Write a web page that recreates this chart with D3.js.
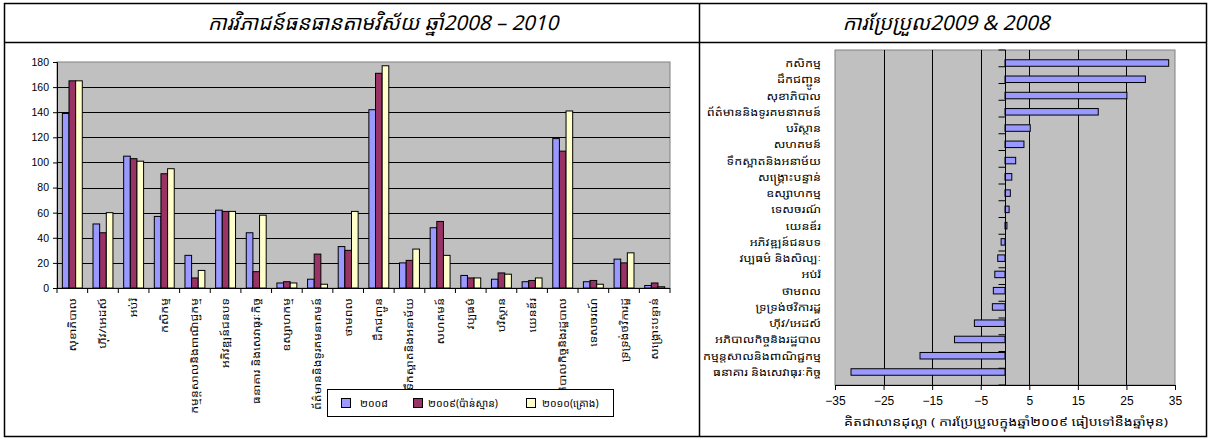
<!DOCTYPE html>
<html><head><meta charset="utf-8">
<script src="https://cdn.jsdelivr.net/npm/d3@7/dist/d3.min.js"></script>
<style>
body{margin:0;background:#fff;}
svg{display:block;}
text{font-family:"Khmer OS System","Khmer OS","Noto Sans Khmer","Noto Serif Khmer","Liberation Sans",Arial,sans-serif;}
.num{font-family:"Liberation Sans",Arial,sans-serif;}
</style></head>
<body>
<svg id="c" width="1212" height="439"></svg>
<script>
// ---------- data ----------
const categories = ["សុខាភិបាល","ហ៊ីវ/អេដស៍","អប់រំ","កសិកម្ម","កម្មន្តសាលនិងពាណិជ្ជកម្ម","អភិវឌ្ឍន៍ជនបទ","ធនាគារ និងសេវាធុរៈកិច្ច","ឧស្សាហកម្ម","ព័ត៌មាននិងទូរគមនាគមន៍","ថាមពល","ដឹកជញ្ជូន","ទឹកស្អាតនិងអនាម័យ","សហគមន៍","វប្បធម៌","បរិស្ថាន","យេនឌ័រ","អភិបាលកិច្ចនិងរដ្ឋបាល","ទេសចរណ៍","ទ្រទ្រង់ថវិការដ្ឋ","សង្គ្រោះបន្ទាន់"];
const series2008 = [139,51,105,57,26,62,44,4,7,33,142,20,48,10,7,5,119,5,23,2];
const series2009 = [165,44,103,91,8,61,13,5,27,30,171,22,53,8,12,6,109,6,20,4];
const series2010 = [165,60,101,95,14,61,58,4,3,61,177,31,26,8,11,8,141,3,28,1];
const seriesNames = ["២០០៨","២០០៩(ប៉ាន់ស្មាន)","២០១០(គ្រោង)"];
const yTicks = [0,20,40,60,80,100,120,140,160,180];

const changeCategories = ["កសិកម្ម","ដឹកជញ្ជូន","សុខាភិបាល","ព័ត៌មាននិងទូរគមនាគមន៍","បរិស្ថាន","សហគមន៍","ទឹកស្អាតនិងអនាម័យ","សង្គ្រោះបន្ទាន់","ឧស្សាហកម្ម","ទេសចរណ៍","យេនឌ័រ","អភិវឌ្ឍន៍ជនបទ","វប្បធម៌ និងសិល្បៈ","អប់រំ","ថាមពល","ទ្រទ្រង់ថវិការដ្ឋ","ហ៊ីវ/អេដស៍","អភិបាលកិច្ចនិងរដ្ឋបាល","កម្មន្តសាលនិងពាណិជ្ជកម្ម","ធនាគារ និងសេវាធុរៈកិច្ច"];
const changeValues = [33.7,28.9,25.1,19.2,5.2,3.9,2.2,1.4,1.1,0.85,0.4,-0.8,-1.5,-2.1,-2.4,-2.6,-6.3,-10.4,-17.5,-31.7];
const xTicks = [-35,-25,-15,-5,5,15,25,35];

const leftTitle = "ការវិភាជន៍ធនធានតាមវិស័យ ឆ្នាំ2008 – 2010";
const rightTitle = "ការប្រែប្រួល2009 & 2008";
const rightAxisTitle = "គិតជាលានដុល្លា ( ការប្រែប្រួលក្នុងឆ្នាំ២០០៩ ធៀបទៅនឹងឆ្នាំមុន)";

const colors = ["#9999FF","#993366","#FFFFCC"];

// ---------- frame ----------
const svg = d3.select("#c");
const fr = svg.append("g").attr("fill","none").attr("stroke","#000").attr("stroke-width",1.5);
fr.append("rect").attr("x",4.5).attr("y",3.5).attr("width",1202).attr("height",433);
fr.append("line").attr("x1",4.5).attr("x2",1206.5).attr("y1",42.5).attr("y2",42.5);
fr.append("line").attr("x1",699.5).attr("x2",699.5).attr("y1",3.5).attr("y2",436.5);

svg.append("text").attr("x",383).attr("y",30).attr("text-anchor","middle")
  .attr("font-size",20.5).attr("font-style","italic").text(leftTitle);
svg.append("text").attr("x",946).attr("y",30).attr("text-anchor","middle")
  .attr("font-size",20.5).attr("font-style","italic").text(rightTitle);

// ---------- left chart ----------
const L = {x0:57, x1:670, y0:62, y1:288};
const x0 = d3.scaleBand().domain(categories).range([L.x0,L.x1]).paddingInner(0.35).paddingOuter(0.175);
const x1 = d3.scaleBand().domain([0,1,2]).range([0,x0.bandwidth()]);
const y = d3.scaleLinear().domain([0,180]).range([L.y1,L.y0]);
const gl = svg.append("g");
gl.append("rect").attr("x",L.x0).attr("y",L.y0).attr("width",L.x1-L.x0).attr("height",L.y1-L.y0)
  .attr("fill","#C0C0C0").attr("stroke","#808080").attr("stroke-width",1);
gl.append("g").selectAll("line").data(yTicks.filter(d=>d>0 && d<180)).join("line")
  .attr("x1",L.x0).attr("x2",L.x1).attr("y1",d=>Math.round(y(d))+0.5).attr("y2",d=>Math.round(y(d))+0.5)
  .attr("stroke","#000").attr("stroke-width",1);
const allSeries = [series2008,series2009,series2010];
categories.forEach((c,i)=>{
  allSeries.forEach((s,k)=>{
    gl.append("rect").attr("x",x0(c)+x1(k)).attr("y",y(s[i]))
      .attr("width",x1.bandwidth()).attr("height",y(0)-y(s[i]))
      .attr("fill",colors[k]).attr("stroke","#000").attr("stroke-width",1);
  });
});
const yAxis = gl.append("g").attr("transform",`translate(${L.x0},0)`)
  .call(d3.axisLeft(y).tickValues(yTicks).tickSize(4).tickPadding(4));
yAxis.selectAll("text").attr("class","num").attr("font-size",10.5).attr("fill","#000");
yAxis.selectAll("line,path").attr("stroke","#000");
const bounds = d3.range(categories.length+1).map(i=>L.x0+i*(L.x1-L.x0)/categories.length);
gl.append("line").attr("x1",L.x0).attr("x2",L.x1).attr("y1",L.y1+0.5).attr("y2",L.y1+0.5).attr("stroke","#000");
gl.append("g").selectAll("line").data(bounds).join("line")
  .attr("x1",d=>d).attr("x2",d=>d).attr("y1",L.y1).attr("y2",L.y1+5).attr("stroke","#000");
gl.append("g").selectAll("text").data(categories).join("text")
  .attr("transform",d=>`translate(${x0(d)+x0.bandwidth()/2+3.5},${L.y1+10}) rotate(-90) scale(1.3,1)`)
  .attr("text-anchor","end").attr("font-size",9.5).text(d=>d);

// legend
const lg = gl.append("g");
lg.append("rect").attr("x",327.5).attr("y",389.5).attr("width",286).attr("height",27)
  .attr("fill","#fff").attr("stroke","#000");
const legX = [[341,360],[413,428],[526,542]];
seriesNames.forEach((n,k)=>{
  lg.append("rect").attr("x",legX[k][0]+0.5).attr("y",398.5).attr("width",9).attr("height",9)
    .attr("fill",colors[k]).attr("stroke","#000");
  lg.append("text").attr("x",legX[k][1]).attr("y",407).attr("font-size",10.5).text(n);
});

// ---------- right chart ----------
const R = {x0:835, x1:1175, y0:50, y1:385};
const xr = d3.scaleLinear().domain([-35,35]).range([R.x0,R.x1]);
const yr = d3.scaleBand().domain(changeCategories).range([R.y0,R.y1]).padding(0.6);
const gr = svg.append("g");
gr.append("rect").attr("x",R.x0).attr("y",R.y0).attr("width",R.x1-R.x0).attr("height",R.y1-R.y0)
  .attr("fill","#C0C0C0").attr("stroke","#808080").attr("stroke-width",1);
gr.append("g").selectAll("line").data(xTicks.filter(d=>d>-35&&d<35)).join("line")
  .attr("x1",d=>Math.round(xr(d))+0.5).attr("x2",d=>Math.round(xr(d))+0.5).attr("y1",R.y0).attr("y2",R.y1)
  .attr("stroke","#000");
gr.append("g").selectAll("rect").data(changeValues).join("rect")
  .attr("x",d=>xr(Math.min(0,d))).attr("width",d=>Math.abs(xr(d)-xr(0)))
  .attr("y",(d,i)=>yr(changeCategories[i])).attr("height",yr.bandwidth())
  .attr("fill",colors[0]).attr("stroke","#000").attr("stroke-width",1);
const z = Math.round(xr(0))+0.5;
gr.append("line").attr("x1",z).attr("x2",z).attr("y1",R.y0).attr("y2",R.y1).attr("stroke","#000");
const rb = d3.range(changeCategories.length+1).map(i=>R.y0+i*(R.y1-R.y0)/changeCategories.length);
gr.append("g").selectAll("line").data(rb).join("line")
  .attr("x1",z-7).attr("x2",z).attr("y1",d=>d).attr("y2",d=>d).attr("stroke","#000");
const xAxis = gr.append("g").attr("transform",`translate(0,${R.y1})`)
  .call(d3.axisBottom(xr).tickValues(xTicks).tickSize(5).tickPadding(6).tickFormat(d3.format("d")));
xAxis.selectAll("text").attr("class","num").attr("font-size",12).attr("fill","#000");
xAxis.selectAll("line,path").attr("stroke","#000");
gr.append("g").selectAll("text").data(changeCategories).join("text")
  .attr("transform",d=>`translate(821,${yr(d)+yr.bandwidth()/2+4}) scale(1.2,1)`).attr("text-anchor","end")
  .attr("font-size",10.5).text(d=>d);
gr.append("text").attr("x",1006).attr("y",426).attr("text-anchor","middle")
  .attr("font-size",11).attr("textLength",324).attr("lengthAdjust","spacingAndGlyphs").text(rightAxisTitle);
</script>
</body></html>
